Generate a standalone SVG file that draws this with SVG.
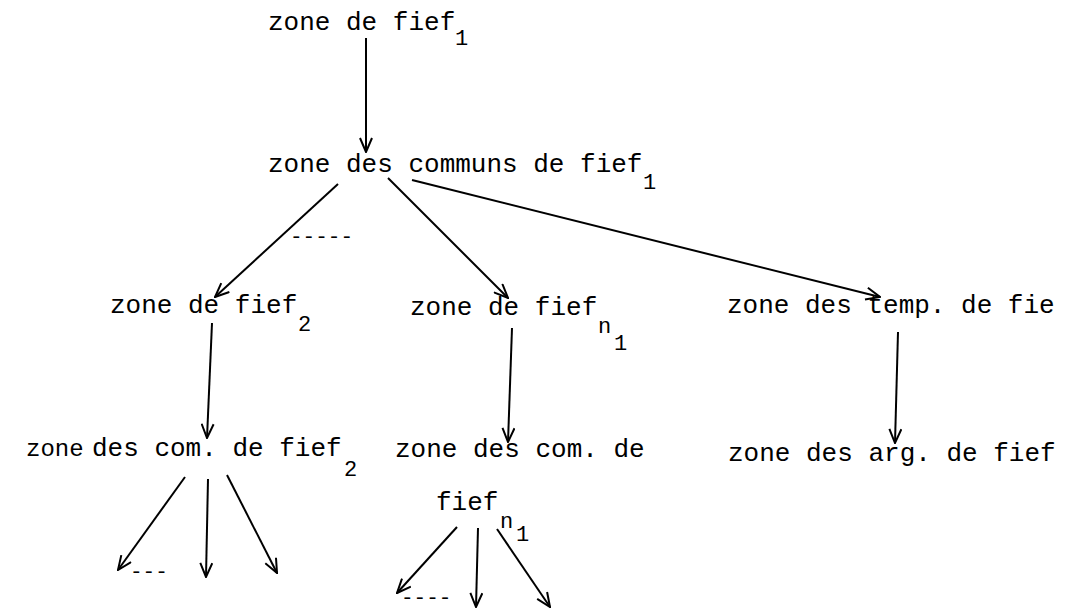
<svg xmlns="http://www.w3.org/2000/svg" width="1075" height="609" viewBox="0 0 1075 609">
<style>
text{font-family:"Liberation Mono","Courier New",monospace;fill:#000}
.t{font-size:26px}
.z{font-size:24px}
.s{font-size:22px}
.d{font-size:21px}
.c line{stroke:#000;stroke-width:2;fill:none;marker-end:url(#ah)}
</style>
<defs>
<marker id="ah" markerUnits="userSpaceOnUse" markerWidth="16" markerHeight="14" viewBox="0 0 16 14" refX="15" refY="7" orient="auto">
<path d="M1,1 L15,7 L1,13" fill="none" stroke="#000" stroke-width="2"/>
</marker>
</defs>
<rect width="1075" height="609" fill="#fff"/>
<g id="n1"><text class="t" x="268" y="30">zone de fief</text><text class="s" x="455" y="45">1</text></g>
<g id="n2"><text class="t" x="268" y="172">zone des communs de fief</text><text class="s" x="643" y="189">1</text></g>
<g id="n3"><text class="t" x="110" y="313">zone de fief</text><text class="s" x="298" y="331">2</text></g>
<g id="n4"><text class="t" x="410" y="315">zone de fief</text><text class="s" x="598" y="333">n</text><text class="s" x="614" y="350">1</text></g>
<g id="n5"><text class="t" x="727" y="313">zone des temp. de fie</text></g>
<g id="n6"><text class="z" x="26" y="456">zone</text><text class="t" x="92" y="456">des com. de fief</text><text class="s" x="344" y="476">2</text></g>
<g id="n7"><text class="t" x="395" y="457">zone des com. de</text><text class="t" x="436" y="510">fief</text><text class="s" x="500" y="528">n</text><text class="s" x="516" y="541">1</text></g>
<g id="n8"><text class="t" x="728" y="461">zone des arg. de fief</text></g>
<g id="dots">
<text class="d" x="290" y="243">-----</text>
<text class="d" x="130" y="578">---</text>
<text class="d" x="401" y="604">----</text>
</g>
<g id="connectors" class="c">
<line x1="366" y1="38" x2="366" y2="152"/>
<line x1="338" y1="184" x2="215" y2="297"/>
<line x1="388" y1="178" x2="508" y2="298"/>
<line x1="412" y1="180" x2="880" y2="297"/>
<line x1="212" y1="323" x2="207" y2="438"/>
<line x1="512" y1="328" x2="508" y2="442"/>
<line x1="898" y1="332" x2="895" y2="443"/>
<line x1="185" y1="477" x2="118" y2="570"/>
<line x1="208" y1="479" x2="206" y2="577"/>
<line x1="227" y1="475" x2="277" y2="573"/>
<line x1="457" y1="527" x2="397" y2="593"/>
<line x1="478" y1="528" x2="476" y2="607"/>
<line x1="497" y1="529" x2="550" y2="607"/>
</g>
</svg>
